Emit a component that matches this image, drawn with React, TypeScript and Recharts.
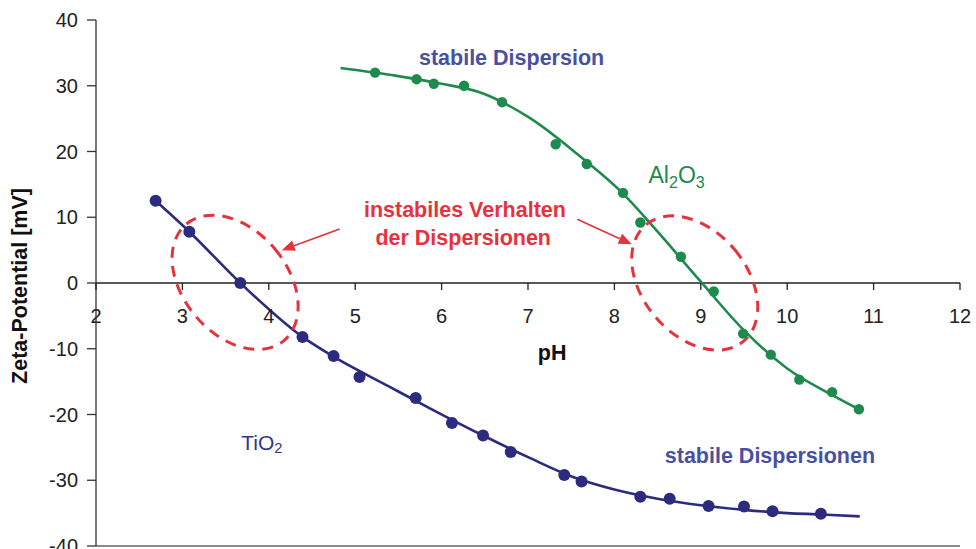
import React from 'react';
import {
  ComposedChart,
  Line,
  Scatter,
  XAxis,
  YAxis,
  ReferenceLine,
  ReferenceDot,
} from 'recharts';

// Measured zeta potentials (mV) over pH
const tio2Points = [
  { x: 2.69, y: 12.5 },
  { x: 3.08, y: 7.8 },
  { x: 3.67, y: 0.0 },
  { x: 4.39, y: -8.2 },
  { x: 4.75, y: -11.1 },
  { x: 5.05, y: -14.3 },
  { x: 5.7, y: -17.5 },
  { x: 6.12, y: -21.3 },
  { x: 6.48, y: -23.2 },
  { x: 6.8, y: -25.7 },
  { x: 7.42, y: -29.2 },
  { x: 7.62, y: -30.2 },
  { x: 8.3, y: -32.5 },
  { x: 8.64, y: -32.8 },
  { x: 9.09, y: -33.9 },
  { x: 9.5, y: -34.0 },
  { x: 9.83, y: -34.7 },
  { x: 10.39, y: -35.1 },
];

const al2o3Points = [
  { x: 5.23, y: 32.0 },
  { x: 5.71, y: 31.0 },
  { x: 5.91, y: 30.3 },
  { x: 6.26, y: 30.0 },
  { x: 6.7, y: 27.5 },
  { x: 7.32, y: 21.1 },
  { x: 7.68, y: 18.1 },
  { x: 8.1, y: 13.7 },
  { x: 8.3, y: 9.2 },
  { x: 8.77, y: 4.0 },
  { x: 9.15, y: -1.3 },
  { x: 9.49, y: -7.7 },
  { x: 9.81, y: -10.9 },
  { x: 10.14, y: -14.7 },
  { x: 10.52, y: -16.6 },
  { x: 10.83, y: -19.2 },
];

// Fitted trend curves
const tio2Fit = [
  { x: 2.69, y: 12.5 },
  { x: 3.08, y: 7.8 },
  { x: 3.67, y: 0.0 },
  { x: 4.39, y: -8.2 },
  { x: 4.71, y: -10.9 },
  { x: 5.4, y: -15.8 },
  { x: 5.87, y: -19.1 },
  { x: 6.48, y: -23.2 },
  { x: 7.02, y: -26.6 },
  { x: 7.52, y: -29.5 },
  { x: 8.0, y: -31.4 },
  { x: 8.5, y: -32.8 },
  { x: 9.0, y: -33.8 },
  { x: 9.5, y: -34.5 },
  { x: 10.0, y: -35.0 },
  { x: 10.4, y: -35.2 },
  { x: 10.84, y: -35.5 },
];

const al2o3Fit = [
  { x: 4.83, y: 32.7 },
  { x: 5.48, y: 31.5 },
  { x: 6.0, y: 30.3 },
  { x: 6.44, y: 29.0 },
  { x: 7.02, y: 25.1 },
  { x: 7.58, y: 19.5 },
  { x: 8.1, y: 13.6 },
  { x: 8.5, y: 7.8 },
  { x: 9.0, y: 0.2 },
  { x: 9.5, y: -7.2 },
  { x: 10.0, y: -13.0 },
  { x: 10.5, y: -16.9 },
  { x: 10.83, y: -19.2 },
];

const xTicks = [2, 3, 4, 5, 6, 7, 8, 9, 10, 11, 12];
const yTicks = [-40, -30, -20, -10, 0, 10, 20, 30, 40];

// Regions of unstable behaviour (centre in data units)
const unstableZones = [
  { x: 3.61, y: 0.1 },
  { x: 8.93, y: 0.0 },
];

// Arrows pointing from the caption to the zones
const arrows = [
  { from: { x: 4.82, y: 8.2 }, to: { x: 4.15, y: 5.0 } },
  { from: { x: 7.57, y: 9.7 }, to: { x: 8.2, y: 5.9 } },
];

const FONT = "'Liberation Sans', Arial, Helvetica, sans-serif";
const NAVY = '#2C2B7E';
const TEXT_BLUE = '#4851A0';
const GREEN = '#1D8A4E';
const RED = '#E6323C';
const LABEL_SIZE = 21.5;

const TextMark = (props: any) => {
  const { cx, cy, text, size, weight, color } = props;
  return (
    <text
      x={cx}
      y={cy}
      textAnchor="middle"
      dominantBaseline="central"
      fontFamily={FONT}
      fontSize={size}
      fontWeight={weight}
      fill={color}
    >
      {text}
    </text>
  );
};

const ChemLabel = (props: any) => {
  const { cx, cy, parts, size, color } = props;
  return (
    <text
      x={cx}
      y={cy}
      textAnchor="middle"
      dominantBaseline="central"
      fontFamily={FONT}
      fontSize={size}
      fill={color}
    >
      {parts.map((p: [string, boolean], i: number) => {
        const [s, sub] = p;
        const prevSub = i > 0 && parts[i - 1][1];
        const dy = sub ? size * 0.3 : prevSub ? -size * 0.3 : 0;
        return (
          <tspan key={i} dy={dy} fontSize={sub ? size * 0.7 : size}>
            {s}
          </tspan>
        );
      })}
    </text>
  );
};

const ZoneEllipse = (props: any) => {
  const { cx, cy } = props;
  return (
    <ellipse
      cx={cx}
      cy={cy}
      rx={52}
      ry={76}
      transform={`rotate(-40 ${cx} ${cy})`}
      fill="none"
      stroke={RED}
      strokeWidth={3}
      strokeDasharray="11 8"
    />
  );
};

const ArrowShape = (props: any) => {
  const { x1, y1, x2, y2 } = props;
  const ang = Math.atan2(y2 - y1, x2 - x1);
  const len = 13;
  const half = 5.5;
  const bx = x2 - len * Math.cos(ang);
  const by = y2 - len * Math.sin(ang);
  const px = -Math.sin(ang) * half;
  const py = Math.cos(ang) * half;
  return (
    <g>
      <line x1={x1} y1={y1} x2={bx} y2={by} stroke={RED} strokeWidth={1.6} />
      <polygon
        points={`${x2},${y2} ${bx + px},${by + py} ${bx - px},${by - py}`}
        fill={RED}
      />
    </g>
  );
};

const XTickMark = (props: any) => {
  const { cx, cy, value } = props;
  return (
    <g>
      <line x1={cx} y1={cy} x2={cx} y2={cy + 7} stroke="#222" strokeWidth={1.3} />
      <text
        x={cx}
        y={cy + 40}
        textAnchor="middle"
        fontFamily={FONT}
        fontSize={20}
        fill="#222"
      >
        {value}
      </text>
    </g>
  );
};

const YAxisTitle = (props: any) => {
  const { viewBox } = props;
  const x = viewBox.x + 20;
  const y = viewBox.y + viewBox.height / 2 + 3;
  return (
    <text
      x={x}
      y={y}
      transform={`rotate(-90 ${x} ${y})`}
      textAnchor="middle"
      dominantBaseline="central"
      fontFamily={FONT}
      fontSize={LABEL_SIZE}
      fontWeight="bold"
      fill="#111"
    >
      Zeta-Potential [mV]
    </text>
  );
};

export default function App() {
  return (
    <div style={{ position: 'absolute', left: 0, top: 0, background: '#fff' }}>
      <ComposedChart
        width={976}
        height={549}
        margin={{ top: 20, right: 16, bottom: 3, left: 0 }}
        style={{ fontFamily: FONT }}
      >
        <XAxis type="number" dataKey="x" domain={[2, 12]} ticks={xTicks} hide />
        <YAxis
          type="number"
          domain={[-40, 40]}
          ticks={yTicks}
          width={96}
          tickSize={9}
          tickMargin={9}
          interval={0}
          axisLine={{ stroke: '#333', strokeWidth: 1.3 }}
          tickLine={{ stroke: '#333', strokeWidth: 1.3 }}
          tick={{ fontSize: 20, fill: '#222', fontFamily: FONT }}
          label={<YAxisTitle />}
        />

        <ReferenceLine y={-40} stroke="#8a8a8a" strokeWidth={2} />
        <ReferenceLine y={0} stroke="#222" strokeWidth={1.4} />
        {xTicks.map((t) => (
          <ReferenceDot
            key={`xt-${t}`}
            x={t}
            y={0}
            r={0}
            ifOverflow="visible"
            shape={(p: any) => <XTickMark {...p} value={t} />}
          />
        ))}

        {unstableZones.map((z, i) => (
          <ReferenceDot
            key={`zone-${i}`}
            x={z.x}
            y={z.y}
            r={0}
            ifOverflow="visible"
            shape={(p: any) => <ZoneEllipse {...p} />}
          />
        ))}
        {arrows.map((a, i) => (
          <ReferenceLine
            key={`arrow-${i}`}
            segment={[a.from, a.to]}
            ifOverflow="visible"
            shape={(p: any) => <ArrowShape {...p} />}
          />
        ))}

        <Line
          data={tio2Fit}
          dataKey="y"
          type="monotone"
          stroke={NAVY}
          strokeWidth={2.6}
          dot={false}
          activeDot={false}
          isAnimationActive={false}
        />
        <Line
          data={al2o3Fit}
          dataKey="y"
          type="monotone"
          stroke={GREEN}
          strokeWidth={2.6}
          dot={false}
          activeDot={false}
          isAnimationActive={false}
        />
        <Scatter
          data={tio2Points}
          dataKey="y"
          fill={NAVY}
          shape={(p: any) => <circle cx={p.cx} cy={p.cy} r={6} fill={NAVY} />}
          isAnimationActive={false}
        />
        <Scatter
          data={al2o3Points}
          dataKey="y"
          fill={GREEN}
          shape={(p: any) => <circle cx={p.cx} cy={p.cy} r={5.2} fill={GREEN} />}
          isAnimationActive={false}
        />

        <ReferenceDot
          x={6.81}
          y={34.2}
          r={0}
          ifOverflow="visible"
          shape={(p: any) => (
            <TextMark {...p} text="stabile Dispersion" size={LABEL_SIZE} weight="bold" color={TEXT_BLUE} />
          )}
        />
        <ReferenceDot
          x={6.27}
          y={11.1}
          r={0}
          ifOverflow="visible"
          shape={(p: any) => (
            <TextMark {...p} text="instabiles Verhalten" size={LABEL_SIZE} weight="bold" color={RED} />
          )}
        />
        <ReferenceDot
          x={6.25}
          y={6.85}
          r={0}
          ifOverflow="visible"
          shape={(p: any) => (
            <TextMark {...p} text="der Dispersionen" size={LABEL_SIZE} weight="bold" color={RED} />
          )}
        />
        <ReferenceDot
          x={9.8}
          y={-26.3}
          r={0}
          ifOverflow="visible"
          shape={(p: any) => (
            <TextMark {...p} text="stabile Dispersionen" size={LABEL_SIZE} weight="bold" color={TEXT_BLUE} />
          )}
        />
        <ReferenceDot
          x={7.28}
          y={-10.7}
          r={0}
          ifOverflow="visible"
          shape={(p: any) => <TextMark {...p} text="pH" size={LABEL_SIZE} weight="bold" color="#111" />}
        />
        <ReferenceDot
          x={8.72}
          y={16.4}
          r={0}
          ifOverflow="visible"
          shape={(p: any) => (
            <ChemLabel
              {...p}
              parts={[['Al', false], ['2', true], ['O', false], ['3', true]]}
              size={23}
              color={GREEN}
            />
          )}
        />
        <ReferenceDot
          x={3.92}
          y={-24.2}
          r={0}
          ifOverflow="visible"
          shape={(p: any) => (
            <ChemLabel {...p} parts={[['TiO', false], ['2', true]]} size={21} color="#33368A" />
          )}
        />
      </ComposedChart>
    </div>
  );
}
